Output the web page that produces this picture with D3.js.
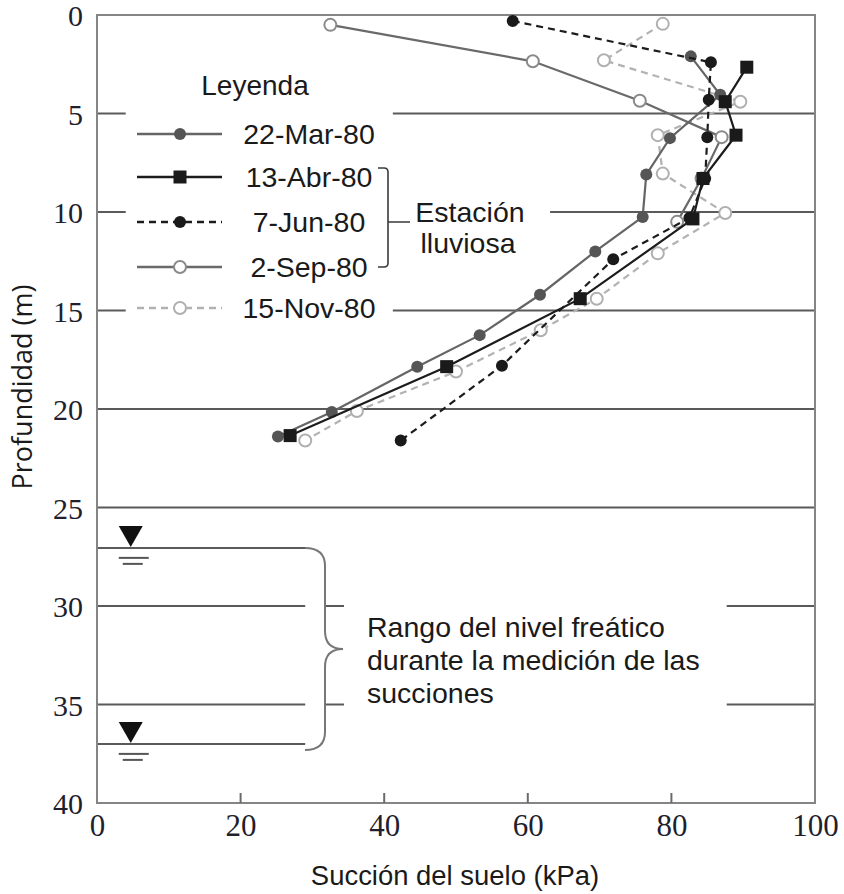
<!DOCTYPE html>
<html>
<head>
<meta charset="utf-8">
<script src="https://cdn.jsdelivr.net/npm/d3@7"></script>
<style>
  body { margin: 0; background: #fff; }
  svg { display: block; }
  .sans { font-family: "Liberation Sans", Arial, sans-serif; fill: #1a1a1a; }
  .tick text { font-family: "Liberation Serif", "Times New Roman", serif; fill: #1f1f2e; }
</style>
</head>
<body>
<div id="chart"></div>
<script>
// ---- data ----
var dates = ["22-Mar-80", "13-Abr-80", "7-Jun-80", "2-Sep-80", "15-Nov-80"];

var marDepth   = [2.1, 4.05, 6.25, 8.1, 10.25, 12.0, 14.2, 16.25, 17.85, 20.15, 21.4];
var marSuction = [82.7, 86.8, 79.8, 76.5, 76.0, 69.4, 61.7, 53.3, 44.6, 32.7, 25.2];

var abrDepth   = [2.65, 4.4, 6.1, 8.3, 10.35, 14.4, 17.85, 21.35];
var abrSuction = [90.5, 87.5, 89.0, 84.4, 83.0, 67.3, 48.7, 26.9];

var junDepth   = [0.3, 2.4, 4.3, 6.2, 8.3, 10.3, 12.4, 17.8, 21.6];
var junSuction = [57.9, 85.5, 85.2, 85.0, 84.7, 82.5, 71.9, 56.4, 42.3];

var sepDepth   = [0.5, 2.35, 4.35, 6.2, 8.3, 10.5];
var sepSuction = [32.5, 60.7, 75.6, 87.0, 84.2, 80.8];

var novDepth   = [0.45, 2.3, 4.4, 6.1, 8.05, 10.05, 12.1, 14.4, 16.0, 18.1, 20.1, 21.6];
var novSuction = [78.8, 70.6, 89.6, 78.1, 78.8, 87.5, 78.1, 69.6, 61.8, 50.0, 36.2, 29.0];

var xTicks = [0, 20, 40, 60, 80, 100];
var yTicks = [0, 5, 10, 15, 20, 25, 30, 35, 40];
var waterLevels = [27.05, 37.0];

// ---- layout ----
var width = 844, height = 894;
var x = d3.scaleLinear().domain([0, 100]).range([97, 815]);
var y = d3.scaleLinear().domain([0, 40]).range([15, 803]);

var svg = d3.select("#chart").append("svg")
    .attr("width", width)
    .attr("height", height);

function zip(sx, dy){ return sx.map(function(v, i){ return [v, dy[i]]; }); }

var styles = {
  "22-Mar-80": {data: zip(marSuction, marDepth), line: "#656565", dash: null, mark: "circle", fill: "#555", stroke: "#555"},
  "13-Abr-80": {data: zip(abrSuction, abrDepth), line: "#1c1c1c", dash: null, mark: "square", fill: "#1a1a1a", stroke: "#1a1a1a"},
  "7-Jun-80":  {data: zip(junSuction, junDepth), line: "#1c1c1c", dash: "7,5", mark: "circle", fill: "#1a1a1a", stroke: "#1a1a1a"},
  "2-Sep-80":  {data: zip(sepSuction, sepDepth), line: "#6a6a6a", dash: null, mark: "open", fill: "#fff", stroke: "#8a8a8a"},
  "15-Nov-80": {data: zip(novSuction, novDepth), line: "#b2b2b2", dash: "7,5", mark: "open", fill: "#fff", stroke: "#b0b0b0"}
};

// ---- grid lines (broken around legend / annotation) ----
var grid = svg.append("g").attr("stroke", "#5a5a5a").attr("stroke-width", 2);
var gridSegs = [
  [5, 0, 4.0], [5, 41.2, 100],
  [10, 0, 4.0], [10, 63.1, 100],
  [15, 0, 4.0], [15, 41.2, 100],
  [20, 0, 100], [25, 0, 100],
  [30, 0, 29.0], [30, 31.8, 34.4], [30, 87.7, 100],
  [35, 0, 29.0], [35, 31.8, 34.4], [35, 87.7, 100],
  [waterLevels[0], 0, 29.0], [waterLevels[1], 0, 29.0]
];
grid.selectAll("line").data(gridSegs).enter().append("line")
    .attr("x1", function(d){ return x(d[1]); })
    .attr("x2", function(d){ return x(d[2]); })
    .attr("y1", function(d){ return y(d[0]); })
    .attr("y2", function(d){ return y(d[0]); });

// ---- frame ----
var frame = svg.append("g").attr("fill", "none").attr("stroke", "#858585").attr("stroke-width", 2);
frame.append("path")
    .attr("d", "M" + x(0) + "," + y(0) + "H" + x(100) + "V" + y(40) + "H" + x(0) + "Z");

// ---- axes ----
var yAxis = d3.axisLeft(y).tickValues(yTicks).tickSize(0).tickPadding(14);
var gy = svg.append("g").attr("transform", "translate(" + x(0) + ",0)").call(yAxis);
gy.select(".domain").remove();
gy.selectAll(".tick text").style("font-size", "30px").attr("dy", "0.36em");

var xAxis = d3.axisBottom(x).tickValues(xTicks).tickSize(0).tickPadding(11);
var gx = svg.append("g").attr("transform", "translate(0," + y(40) + ")").call(xAxis);
gx.select(".domain").remove();
gx.selectAll(".tick text").style("font-size", "31px");

// inner ticks on the x axis
svg.append("g").attr("stroke", "#6a6a6a").attr("stroke-width", 2)
  .selectAll("line").data([20, 40, 60, 80]).enter().append("line")
    .attr("x1", function(d){ return x(d); }).attr("x2", function(d){ return x(d); })
    .attr("y1", y(40)).attr("y2", y(40) - 10);

// axis titles
svg.append("text").attr("class", "sans")
    .attr("transform", "translate(32," + 387 + ") rotate(-90)")
    .attr("text-anchor", "middle")
    .style("font-family", "'Open Sans', 'Noto Sans', sans-serif")
    .style("font-size", "27px")
    .text("Profundidad (m)");

svg.append("text").attr("class", "sans")
    .attr("x", 455).attr("y", 885)
    .attr("text-anchor", "middle")
    .style("font-size", "28px")
    .attr("transform", "translate(455,0) scale(0.98,1) translate(-455,0)")
    .text("Succión del suelo (kPa)");

// ---- series ----
function drawMarker(g, s, cx, cy){
  if (s.mark === "square") {
    g.append("rect").attr("x", cx - 6.5).attr("y", cy - 6.5)
      .attr("width", 13).attr("height", 13).attr("fill", s.fill);
  } else if (s.mark === "open") {
    g.append("circle").attr("cx", cx).attr("cy", cy).attr("r", 6)
      .attr("fill", s.fill).attr("stroke", s.stroke).attr("stroke-width", 2);
  } else {
    g.append("circle").attr("cx", cx).attr("cy", cy).attr("r", 6).attr("fill", s.fill);
  }
}

var line = d3.line().x(function(d){ return x(d[0]); }).y(function(d){ return y(d[1]); });

var order = ["15-Nov-80", "2-Sep-80", "22-Mar-80", "7-Jun-80", "13-Abr-80"];
order.forEach(function(k){
  var s = styles[k];
  var g = svg.append("g").attr("class", "series");
  g.append("path").datum(s.data)
    .attr("d", line)
    .attr("fill", "none")
    .attr("stroke", s.line)
    .attr("stroke-width", 2.2)
    .attr("stroke-dasharray", s.dash);
  s.data.forEach(function(d){ drawMarker(g, s, x(d[0]), y(d[1])); });
});

// ---- legend ----
var legend = svg.append("g");
legend.append("text").attr("class", "sans")
    .attr("x", 255).attr("y", 95).attr("text-anchor", "middle")
    .style("font-size", "28px").text("Leyenda");

var rowY = [134, 177, 222, 267, 308];
dates.forEach(function(k, i){
  var s = styles[k];
  var gr = legend.append("g");
  gr.append("line").attr("x1", 137).attr("x2", 222)
    .attr("y1", rowY[i]).attr("y2", rowY[i])
    .attr("stroke", s.line).attr("stroke-width", 2.5)
    .attr("stroke-dasharray", s.dash);
  drawMarker(gr, s, 180, rowY[i]);
  gr.append("text").attr("class", "sans")
    .attr("x", 309).attr("y", rowY[i] + 10).attr("text-anchor", "middle")
    .style("font-size", "28.5px").text(k);
});

// bracket for rainy season
legend.append("path")
    .attr("d", "M378,168 H384 Q388,168 388,172 V263 Q388,267 384,267 H378 M388,222 H410")
    .attr("fill", "none").attr("stroke", "#3a3a3a").attr("stroke-width", 1.6);
legend.append("text").attr("class", "sans")
    .attr("x", 470).attr("y", 222).attr("text-anchor", "middle")
    .style("font-size", "28.5px").text("Estación");
legend.append("text").attr("class", "sans")
    .attr("x", 468).attr("y", 253).attr("text-anchor", "middle")
    .style("font-size", "28.5px").text("lluviosa");

// ---- water table symbols ----
waterLevels.forEach(function(w){
  var yy = y(w), cx = x(4.7);
  svg.append("path")
    .attr("d", "M" + (cx - 12) + "," + (yy - 22) + "L" + (cx + 12) + "," + (yy - 22) + "L" + cx + "," + (yy - 1) + "Z")
    .attr("fill", "#111");
  svg.append("line").attr("x1", cx - 12).attr("x2", cx + 18).attr("y1", yy + 10).attr("y2", yy + 10)
    .attr("stroke", "#555").attr("stroke-width", 2);
  svg.append("line").attr("x1", cx - 8).attr("x2", cx + 12).attr("y1", yy + 16).attr("y2", yy + 16)
    .attr("stroke", "#555").attr("stroke-width", 2);
});

// curly brace for the water-table range
var b0 = y(waterLevels[0]), b1 = y(waterLevels[1]) + 6, bm = (b0 + b1) / 2;
svg.append("path")
    .attr("d", "M305," + b0 + " Q325," + b0 + " 325," + (b0 + 18) +
               " V" + (bm - 18) + " Q325," + bm + " 343," + bm +
               " Q325," + bm + " 325," + (bm + 18) +
               " V" + (b1 - 18) + " Q325," + b1 + " 305," + b1)
    .attr("fill", "none").attr("stroke", "#777").attr("stroke-width", 2);

var note = ["Rango del nivel freático", "durante la medición de las", "succiones"];
svg.append("g").selectAll("text").data(note).enter().append("text")
    .attr("class", "sans")
    .attr("x", 367)
    .attr("y", function(d, i){ return 637 + i * 33; })
    .style("font-size", "28.5px")
    .text(function(d){ return d; });
</script>
</body>
</html>
